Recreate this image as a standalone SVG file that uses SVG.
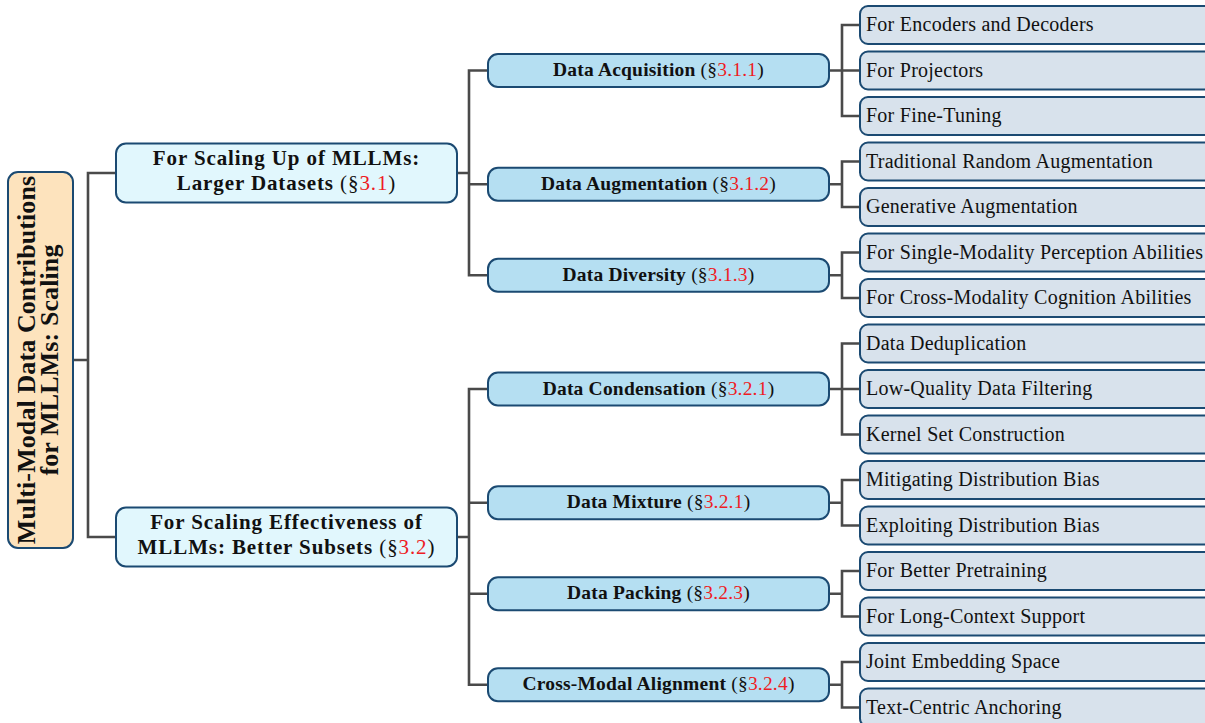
<svg xmlns="http://www.w3.org/2000/svg" width="1205" height="723" viewBox="0 0 1205 723">
<style>
  .conn { fill: none; stroke: #4a4a4a; stroke-width: 2.6; stroke-linecap: square; }
  .box { stroke: #1b4a72; stroke-width: 2; }
  .root { fill: #fde3bd; }
  .l1 { fill: #e1f7fd; }
  .l2 { fill: #b5dff2; }
  .leaf { fill: #d8e2ec; }
  text { font-family: "Liberation Serif", "Times New Roman", serif; fill: #111; }
  .tr { font-size: 26px; font-weight: bold; letter-spacing: 0.1px; text-anchor: middle; }
  .t1 { font-size: 21px; font-weight: bold; letter-spacing: 0.9px; text-anchor: middle; }
  .t2 { font-size: 19.5px; font-weight: bold; letter-spacing: 0.2px; text-anchor: middle; }
  .tl { font-size: 20px; letter-spacing: 0.25px; }
  .n { font-weight: normal; }
  .red { fill: #ee1c24; font-weight: normal; }
</style>
<g id="connectors">
  <path class="conn" d="M73,360 H88 M88,173 V537 M88,173 H116 M88,537 H116"/>
  <path class="conn" d="M457,173 H469 M469,70.5 V275.25 M469,70.5 H488 M469,184.25 H488 M469,275.25 H488"/>
  <path class="conn" d="M457,537 H469 M469,389 V684.75 M469,389 H488 M469,502.75 H488 M469,593.75 H488 M469,684.75 H488"/>
  <path class="conn" d="M829,70.5 H842 M842,25 V116 M842,25 H860 M842,70.5 H860 M842,116 H860"/>
  <path class="conn" d="M829,184.25 H842 M842,161.5 V207 M842,161.5 H860 M842,207 H860"/>
  <path class="conn" d="M829,275.25 H842 M842,252.5 V298 M842,252.5 H860 M842,298 H860"/>
  <path class="conn" d="M829,389 H842 M842,343.5 V434.5 M842,343.5 H860 M842,389 H860 M842,434.5 H860"/>
  <path class="conn" d="M829,502.75 H842 M842,480 V525.5 M842,480 H860 M842,525.5 H860"/>
  <path class="conn" d="M829,593.75 H842 M842,571 V616.5 M842,571 H860 M842,616.5 H860"/>
  <path class="conn" d="M829,684.75 H842 M842,662 V707.5 M842,662 H860 M842,707.5 H860"/>
</g>
<g id="root">
  <rect class="box root" x="8" y="172" width="65" height="376" rx="10"/>
  <text class="tr" transform="translate(35,360) rotate(-90)">Multi-Modal Data Contributions</text>
  <text class="tr" transform="translate(58,360) rotate(-90)">for MLLMs: Scaling</text>
</g>
<g id="l1-scaling-up">
  <rect class="box l1" x="116" y="143.5" width="341" height="59" rx="10"/>
  <text class="t1" x="286.5" y="165">For Scaling Up of MLLMs:</text>
  <text class="t1" x="286.5" y="190">Larger Datasets <tspan class="n">(§</tspan><tspan class="red">3.1</tspan><tspan class="n">)</tspan></text>
</g>
<g id="l1-effectiveness">
  <rect class="box l1" x="116" y="507.5" width="341" height="59" rx="10"/>
  <text class="t1" x="286.5" y="529">For Scaling Effectiveness of</text>
  <text class="t1" x="286.5" y="554">MLLMs: Better Subsets <tspan class="n">(§</tspan><tspan class="red">3.2</tspan><tspan class="n">)</tspan></text>
</g>
<g id="l2-acquisition">
  <rect class="box l2" x="488" y="54" width="341" height="33" rx="10"/>
  <text class="t2" x="658.5" y="76">Data Acquisition <tspan class="n">(§</tspan><tspan class="red">3.1.1</tspan><tspan class="n">)</tspan></text>
</g>
<g id="l2-augmentation">
  <rect class="box l2" x="488" y="167.75" width="341" height="33" rx="10"/>
  <text class="t2" x="658.5" y="189.75">Data Augmentation <tspan class="n">(§</tspan><tspan class="red">3.1.2</tspan><tspan class="n">)</tspan></text>
</g>
<g id="l2-diversity">
  <rect class="box l2" x="488" y="258.75" width="341" height="33" rx="10"/>
  <text class="t2" x="658.5" y="280.75">Data Diversity <tspan class="n">(§</tspan><tspan class="red">3.1.3</tspan><tspan class="n">)</tspan></text>
</g>
<g id="l2-condensation">
  <rect class="box l2" x="488" y="372.5" width="341" height="33" rx="10"/>
  <text class="t2" x="658.5" y="394.5">Data Condensation <tspan class="n">(§</tspan><tspan class="red">3.2.1</tspan><tspan class="n">)</tspan></text>
</g>
<g id="l2-mixture">
  <rect class="box l2" x="488" y="486.25" width="341" height="33" rx="10"/>
  <text class="t2" x="658.5" y="508.25">Data Mixture <tspan class="n">(§</tspan><tspan class="red">3.2.1</tspan><tspan class="n">)</tspan></text>
</g>
<g id="l2-packing">
  <rect class="box l2" x="488" y="577.25" width="341" height="33" rx="10"/>
  <text class="t2" x="658.5" y="599.25">Data Packing <tspan class="n">(§</tspan><tspan class="red">3.2.3</tspan><tspan class="n">)</tspan></text>
</g>
<g id="l2-alignment">
  <rect class="box l2" x="488" y="668.25" width="341" height="33" rx="10"/>
  <text class="t2" x="658.5" y="690.25">Cross-Modal Alignment <tspan class="n">(§</tspan><tspan class="red">3.2.4</tspan><tspan class="n">)</tspan></text>
</g>
<g id="leaf-1"><rect class="box leaf" x="860" y="6" width="352" height="38" rx="8"/><text class="tl" x="866" y="31">For Encoders and Decoders</text></g>
<g id="leaf-2"><rect class="box leaf" x="860" y="51.5" width="352" height="38" rx="8"/><text class="tl" x="866" y="76.5">For Projectors</text></g>
<g id="leaf-3"><rect class="box leaf" x="860" y="97" width="352" height="38" rx="8"/><text class="tl" x="866" y="122">For Fine-Tuning</text></g>
<g id="leaf-4"><rect class="box leaf" x="860" y="142.5" width="352" height="38" rx="8"/><text class="tl" x="866" y="167.5">Traditional Random Augmentation</text></g>
<g id="leaf-5"><rect class="box leaf" x="860" y="188" width="352" height="38" rx="8"/><text class="tl" x="866" y="213">Generative Augmentation</text></g>
<g id="leaf-6"><rect class="box leaf" x="860" y="233.5" width="352" height="38" rx="8"/><text class="tl" x="866" y="258.5">For Single-Modality Perception Abilities</text></g>
<g id="leaf-7"><rect class="box leaf" x="860" y="279" width="352" height="38" rx="8"/><text class="tl" x="866" y="304">For Cross-Modality Cognition Abilities</text></g>
<g id="leaf-8"><rect class="box leaf" x="860" y="324.5" width="352" height="38" rx="8"/><text class="tl" x="866" y="349.5">Data Deduplication</text></g>
<g id="leaf-9"><rect class="box leaf" x="860" y="370" width="352" height="38" rx="8"/><text class="tl" x="866" y="395">Low-Quality Data Filtering</text></g>
<g id="leaf-10"><rect class="box leaf" x="860" y="415.5" width="352" height="38" rx="8"/><text class="tl" x="866" y="440.5">Kernel Set Construction</text></g>
<g id="leaf-11"><rect class="box leaf" x="860" y="461" width="352" height="38" rx="8"/><text class="tl" x="866" y="486">Mitigating Distribution Bias</text></g>
<g id="leaf-12"><rect class="box leaf" x="860" y="506.5" width="352" height="38" rx="8"/><text class="tl" x="866" y="531.5">Exploiting Distribution Bias</text></g>
<g id="leaf-13"><rect class="box leaf" x="860" y="552" width="352" height="38" rx="8"/><text class="tl" x="866" y="577">For Better Pretraining</text></g>
<g id="leaf-14"><rect class="box leaf" x="860" y="597.5" width="352" height="38" rx="8"/><text class="tl" x="866" y="622.5">For Long-Context Support</text></g>
<g id="leaf-15"><rect class="box leaf" x="860" y="643" width="352" height="38" rx="8"/><text class="tl" x="866" y="668">Joint Embedding Space</text></g>
<g id="leaf-16"><rect class="box leaf" x="860" y="688.5" width="352" height="38" rx="8"/><text class="tl" x="866" y="713.5">Text-Centric Anchoring</text></g>
</svg>
